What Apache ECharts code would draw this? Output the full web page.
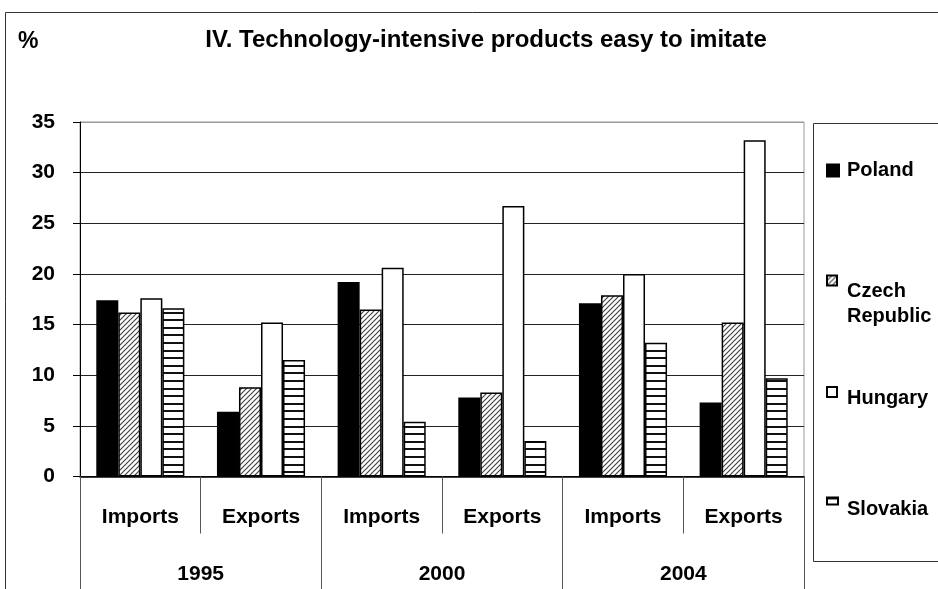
<!DOCTYPE html>
<html>
<head>
<meta charset="utf-8">
<script src="https://cdn.jsdelivr.net/npm/echarts@6/dist/echarts.min.js"></script>
<style>html,body{margin:0;padding:0;background:#fff}#c{width:938px;height:589px}</style>
</head>
<body>
<div id="c"></div>
<script>
const categories = ['Imports', 'Exports', 'Imports', 'Exports', 'Imports', 'Exports'];
const years = ['1995', '2000', '2004'];
const seriesNames = ['Poland', 'Czech Republic', 'Hungary', 'Slovakia'];
const poland = [17.4, 6.4, 19.2, 7.8, 17.1, 7.3];
const czech = [16.2, 8.8, 16.5, 8.3, 17.9, 15.2];
const hungary = [17.6, 15.2, 20.6, 26.7, 20.0, 33.2];
const slovakia = [16.6, 11.5, 5.4, 3.5, 13.2, 9.7];
const yTicks = [0, 5, 10, 15, 20, 25, 30, 35];

function hatchPattern() {
  const c = document.createElement('canvas');
  c.width = 5; c.height = 5;
  const g = c.getContext('2d');
  g.fillStyle = '#fff'; g.fillRect(0, 0, 5, 5);
  g.strokeStyle = '#444'; g.lineWidth = 1.2;
  g.beginPath();
  g.moveTo(-1, 6); g.lineTo(6, -1);
  g.moveTo(-1, 1); g.lineTo(1, -1);
  g.moveTo(4, 6); g.lineTo(6, 4);
  g.stroke();
  return c;
}
function stripePattern() {
  const c = document.createElement('canvas');
  c.width = 8; c.height = 38;
  const g = c.getContext('2d');
  g.fillStyle = '#fff'; g.fillRect(0, 0, 8, 38);
  g.fillStyle = '#111';
  for (let i = 0; i < 5; i++) g.fillRect(0, Math.round(i * 7.6), 8, 2);
  return c;
}
const hatch = { image: hatchPattern(), repeat: 'repeat' };
const stripes = { image: stripePattern(), repeat: 'repeat' };

const font = 'Liberation Sans, Arial, sans-serif';
const chart = echarts.init(document.getElementById('c'), null, { renderer: 'canvas' });

function mkSeries(name, data, color) {
  return {
    name: name, type: 'bar', data: data, barGap: '0%', barCategoryGap: '27%',
    itemStyle: { color: color, borderColor: '#000', borderWidth: 1.5 },
    emphasis: { disabled: true }, animation: false
  };
}
function mkLegend(name, top, w, h, spacer, lines, lh, padLeft) {
  const rich = {
    t: { fontFamily: font, fontWeight: 'bold', fontSize: 20, lineHeight: lh, color: '#000', padding: [0, 0, 0, padLeft] }
  };
  if (spacer) rich.s = { fontSize: 8, lineHeight: spacer };
  return {
    data: [name], left: 826, top: top, orient: 'vertical', padding: 0,
    itemWidth: w, itemHeight: h, icon: 'rect', selectedMode: false,
    formatter: function () {
      const body = lines.map(function (l) { return '{t|' + l + '}'; }).join('\n');
      return spacer ? '{s| }\n' + body : body;
    },
    textStyle: { fontFamily: font, fontWeight: 'bold', fontSize: 20, color: '#000', rich: rich }
  };
}

chart.setOption({
  animation: false,
  backgroundColor: '#fff',
  title: [
    { text: 'IV. Technology-intensive products easy to imitate', left: 481, top: 23, textAlign: 'center',
      textStyle: { fontFamily: font, fontWeight: 'bold', fontSize: 24, color: '#000' } },
    { text: '%', left: 13, top: 25,
      textStyle: { fontFamily: font, fontWeight: 'bold', fontSize: 23, color: '#000' } }
  ],
  legend: [
    mkLegend('Poland', 160.5, 12, 12, 0, ['Poland'], 21, 3),
    mkLegend('Czech Republic', 251.5, 10, 10, 47, ['Czech', 'Republic'], 25, 5),
    mkLegend('Hungary', 377.5, 10, 10, 13, ['Hungary'], 21, 5),
    mkLegend('Slovakia', 486.5, 11, 7, 17, ['Slovakia'], 21, 4)
  ],
  grid: { left: 80, right: 134, top: 122, bottom: 112.5, show: true, borderColor: '#999', borderWidth: 1, containLabel: false },
  xAxis: [
    {
      type: 'category', data: categories, position: 'bottom',
      axisLine: { show: true, lineStyle: { color: '#000', width: 1.5 } },
      axisTick: { show: true, interval: 0, length: 57, lineStyle: { color: '#555', width: 1 } },
      axisLabel: { interval: 0, margin: 30, fontFamily: font, fontWeight: 'bold', fontSize: 21, color: '#000' },
      splitLine: { show: false }
    },
    {
      type: 'category', data: years, position: 'bottom',
      axisLine: { show: false },
      axisTick: { show: true, interval: 0, length: 115, lineStyle: { color: '#555', width: 1 } },
      axisLabel: { interval: 0, margin: 87, fontFamily: font, fontWeight: 'bold', fontSize: 21, color: '#000' },
      splitLine: { show: false }
    }
  ],
  yAxis: {
    type: 'value', min: yTicks[0], max: yTicks[yTicks.length - 1], interval: 5,
    axisLine: { show: true, lineStyle: { color: '#000', width: 1 } },
    axisTick: { show: true, length: 7, lineStyle: { color: '#000' } },
    axisLabel: { margin: 25, fontFamily: font, fontWeight: 'bold', fontSize: 21, color: '#000' },
    splitLine: { show: true, lineStyle: { color: ['#222', '#222', '#222', '#222', '#222', '#222', '#222', '#999'], width: 1 } }
  },
  graphic: [
    { type: 'rect', silent: true, shape: { x: 5.5, y: 12.5, width: 1000, height: 1000 }, style: { fill: 'none', stroke: '#333', lineWidth: 1 }, z: -1 },
    { type: 'rect', silent: true, shape: { x: 813.5, y: 123.5, width: 200, height: 438 }, style: { fill: 'none', stroke: '#333', lineWidth: 1 }, z: -1 }
  ],
  series: [
    mkSeries(seriesNames[0], poland, '#000'),
    mkSeries(seriesNames[1], czech, hatch),
    mkSeries(seriesNames[2], hungary, '#fff'),
    mkSeries(seriesNames[3], slovakia, stripes)
  ]
});
</script>
</body>
</html>
